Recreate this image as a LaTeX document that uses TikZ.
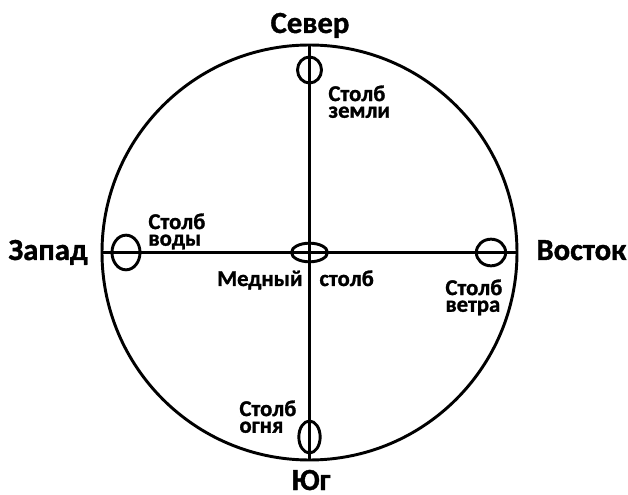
\documentclass[tikz,border=0pt]{standalone}
\usepackage{fontspec}
\setmainfont{Carlito}[BoldFeatures={FakeBold=1.2}]
\usetikzlibrary{shapes.geometric,positioning}

\begin{document}
\begin{tikzpicture}[x=0.75pt,y=-0.75pt,line width=2.2pt,
  pillar/.style={draw,ellipse,inner sep=0pt,line width=2.2pt},
  side/.style={font=\bfseries\fontsize{23}{23}\selectfont,inner sep=0pt},
  lbl/.style={font=\bfseries\fontsize{17}{12.5}\selectfont,align=left,inner sep=0pt}]
  \useasboundingbox (0,0) rectangle (628,495);
  % world circle and the two axes
  \def\R{207.5}
  \coordinate (O) at (309.5,252.5);
  \coordinate (N) at (309.5,45);
  \coordinate (S) at (309.5,460);
  \coordinate (W) at (101,252.5);
  \coordinate (E) at (518,252.5);
  \draw (O) circle (\R);
  \draw (N) -- (S);
  \draw (W) -- (E);
  % pillars
  \node[pillar,minimum width=18pt,minimum height=19.5pt] (earth) at (309.5,70) {};
  \node[pillar,minimum width=21pt,minimum height=26pt] (water) at (126,252.5) {};
  \node[pillar,minimum width=22pt,minimum height=20pt] (wind) at (491,252.5) {};
  \node[pillar,minimum width=27pt,minimum height=14pt] (copper) at (309.5,252.5) {};
  \node[pillar,minimum width=16pt,minimum height=24pt] (fire) at (309.5,437) {};
  % cardinal points
  \node[side,anchor=base] (north) at (310,33) {Север};
  \node[side,anchor=base] (south) at (311,490) {Юг};
  \node[side,anchor=base west] (west) at (7,260) {Запад};
  \node[side,anchor=base west] (east) at (535,260) {Восток};
  % pillar labels
  \node[lbl,anchor=north west] (earthlbl) at (327,84) {Столб\\земли};
  \node[lbl,anchor=north west] (waterlbl) at (147,212) {Столб\\воды};
  \node[lbl,anchor=north west] (windlbl) at (444,278) {Столб\\ветра};
  \node[lbl,anchor=north west] (firelbl) at (238,399) {Столб\\огня};
  \node[lbl,anchor=base east] (copperlbl) at (304,286) {Медный};
  \node[lbl,anchor=base west] (copperlbl2) at (318,286) {столб};
\end{tikzpicture}
\end{document}
